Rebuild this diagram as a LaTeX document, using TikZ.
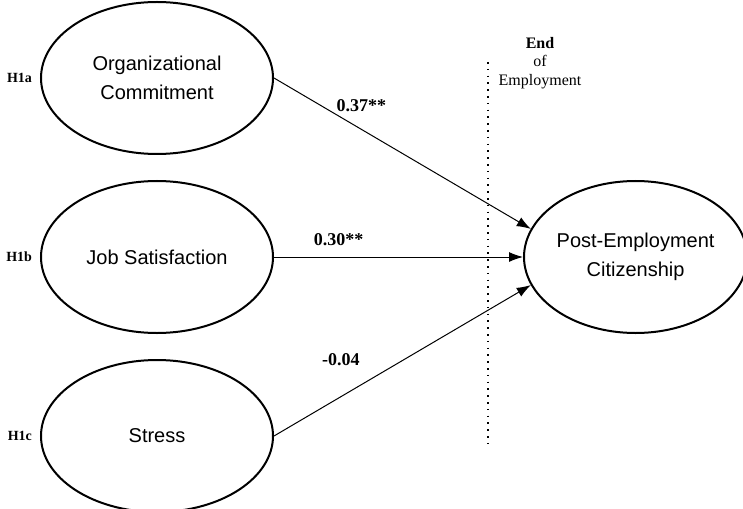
\documentclass[tikz,border=0pt]{standalone}
\usepackage{fontspec}
\setmainfont{Liberation Serif}
\setsansfont{Liberation Sans}
\usetikzlibrary{positioning,shapes.geometric,arrows.meta}

\begin{document}
\begin{tikzpicture}[
  node distance=12.5pt,
  construct/.style={
    draw, line width=1pt, shape=ellipse, align=center, inner sep=0pt,
    minimum width=116pt, minimum height=76pt, font=\sffamily\fontsize{10}{14.5}\selectfont
  },
  hyp/.style={font=\bfseries\fontsize{7}{8}\selectfont},
  coef/.style={font=\bfseries\fontsize{9}{10}\selectfont},
  effect/.style={line width=.5pt, -{Latex[length=7pt,width=5pt]}},
  boundary/.style={line width=.7pt, dash pattern=on .8pt off 2.6pt}
]
  \useasboundingbox (-78.5pt,39pt) rectangle (293pt,-215pt);

  \node[construct] (oc) {Organizational\\Commitment};
  \node[construct, below=of oc] (js) {Job Satisfaction};
  \node[construct, below=of js] (st) {Stress};
  \node[construct, right=124.5pt of js, minimum width=110pt] (pec) {Post-Employment\\Citizenship};

  \node[hyp, left=.5pt of oc.west] (h1a) {H1a};
  \node[hyp, left=.5pt of js.west] (h1b) {H1b};
  \node[hyp, left=.5pt of st.west] (h1c) {H1c};

  \draw[effect] (oc.east) -- node[coef, pos=.34, above=5pt] {0.37**} (pec.165);
  \draw[effect] (js.east) -- node[coef, pos=.26, above=2pt] {0.30**} (pec.west);
  \draw[effect] (st.east) -- node[coef, pos=.26, above=12pt] {-0.04} (pec.195);

  % end of employment
  \coordinate (eoe-top) at (165.5pt,8pt);
  \coordinate (eoe-bot) at (165.5pt,-183.5pt);
  \draw[boundary] (eoe-top) -- (eoe-bot);
  \node[font=\fontsize{8}{9.25}\selectfont, align=center] (eoe) at ([xshift=26pt, yshift=-.5pt]eoe-top) {\textbf{End}\\of\\Employment};

\end{tikzpicture}
\end{document}
